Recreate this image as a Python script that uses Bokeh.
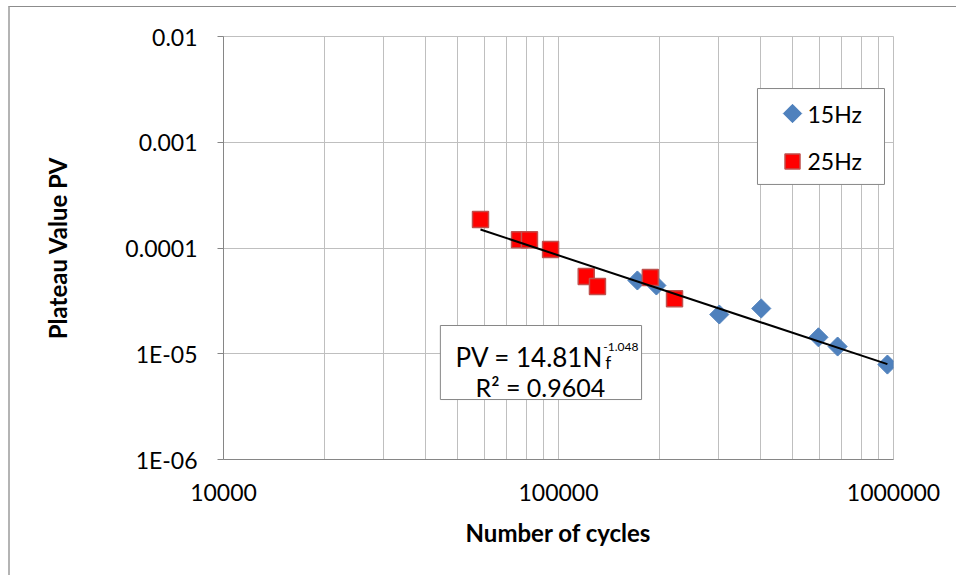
import numpy as np
from bokeh.plotting import figure
from bokeh.models import FixedTicker, BoxAnnotation, Label
from bokeh.embed import file_html
from bokeh.resources import INLINE

# ---- data ----
n_15hz = [172000, 196000, 302000, 403000, 597000, 681000, 959000]
pv_15hz = [4.93e-5, 4.42e-5, 2.35e-5, 2.68e-5, 1.43e-5, 1.17e-5, 7.9e-6]
n_25hz = [58500, 76500, 81900, 94700, 121000, 130700, 188000, 222000]
pv_25hz = [1.86e-4, 1.20e-4, 1.20e-4, 9.7e-5, 5.37e-5, 4.33e-5, 5.26e-5, 3.31e-5]
series_names = ["15Hz", "25Hz"]

trend_coef = 14.81
trend_exp = -1.048
r_squared = 0.9604

x_ticks = [1e4, 1e5, 1e6]
x_tick_labels = ["10000", "100000", "1000000"]
y_ticks = [1e-6, 1e-5, 1e-4, 1e-3, 1e-2]
y_tick_labels = ["1E-06", "1E-05", "0.0001", "0.001", "0.01"]

FONT = "Lato"
AXIS_COL = "#868686"
GRID_COL = "#bfbfbf"
BLUE = "#4f81bd"
RED = "#ff0000"
RED_EDGE = "#c0504d"

p = figure(width=948, height=569, x_axis_type="log", y_axis_type="log",
           x_range=(1e4, 1e6), y_range=(1e-6, 1e-2),
           output_backend="svg", toolbar_location=None,
           min_border_left=213, min_border_right=65, min_border_top=29, min_border_bottom=117,
           styles={"margin-left": "8px", "margin-top": "6px",
                   "border-left": "2px solid #b4b4b4", "border-top": "1px solid #8c8c8c"})
p.outline_line_color = GRID_COL

minor_x = [m * 10 ** k for k in (4, 5) for m in range(2, 10)]
p.xaxis.ticker = FixedTicker(ticks=x_ticks, minor_ticks=minor_x)
p.yaxis.ticker = FixedTicker(ticks=y_ticks, minor_ticks=[])
p.xaxis.major_label_overrides = {t: s for t, s in zip(x_ticks, x_tick_labels)}
p.yaxis.major_label_overrides = {t: s for t, s in zip(y_ticks, y_tick_labels)}

for ax in (p.xaxis[0], p.yaxis[0]):
    ax.axis_line_color = AXIS_COL
    ax.major_tick_line_color = AXIS_COL
    ax.major_tick_in = 0
    ax.minor_tick_in = 0
    ax.minor_tick_out = 0
    ax.major_label_text_font = FONT
    ax.major_label_text_font_size = "23px"
    ax.major_label_text_color = "black"
    ax.axis_label_text_font = FONT
    ax.axis_label_text_font_size = "24px"
    ax.axis_label_text_font_style = "bold"
    ax.axis_label_text_color = "black"

p.xaxis.major_tick_out = 0
p.yaxis.major_tick_out = 6
p.xaxis.major_label_standoff = 24
p.yaxis.major_label_standoff = 20
p.xaxis.axis_label = "Number of cycles"
p.yaxis.axis_label = "Plateau Value PV"
p.xaxis.axis_label_standoff = 14
p.yaxis.axis_label_standoff = 50

p.xgrid.grid_line_color = GRID_COL
p.xgrid.minor_grid_line_color = GRID_COL
p.ygrid.grid_line_color = GRID_COL
p.ygrid.minor_grid_line_color = None

r15 = p.scatter(n_15hz, pv_15hz, marker="square", angle=np.pi / 4, size=13.5,
                fill_color=BLUE, line_color=BLUE)
r25 = p.scatter(n_25hz, pv_25hz, marker="square", size=16,
                fill_color=RED, line_color=RED_EDGE, line_width=1.5)

all_n = n_15hz + n_25hz
tx = np.array([min(all_n), max(all_n)], dtype=float)
p.line(tx, trend_coef * tx ** trend_exp, line_color="black", line_width=2)

# legend (frame, symbols and labels; layout constants in data units)
LG_LEFT, LG_RIGHT, LG_TOP, LG_BOTTOM = 392600, 940000, 3.22e-3, 3.99e-4
LG_SYM_X, LG_TXT_X = 499500, 553700
LG_ROW_Y = [1.87e-3, 6.58e-4]
p.add_layout(BoxAnnotation(left=LG_LEFT, right=LG_RIGHT, top=LG_TOP, bottom=LG_BOTTOM,
                           fill_color="white", fill_alpha=1.0,
                           line_color=AXIS_COL, line_alpha=1.0, line_width=1))
lg15 = p.scatter([LG_SYM_X], [LG_ROW_Y[0]], marker="square", angle=np.pi / 4, size=13,
                 fill_color=BLUE, line_color=BLUE, level="overlay")
lg25 = p.scatter([LG_SYM_X], [LG_ROW_Y[1]], marker="square", size=15,
                 fill_color=RED, line_color=RED_EDGE, line_width=1.5, level="overlay")
for name, yy in zip(series_names, LG_ROW_Y):
    p.add_layout(Label(x=LG_TXT_X, y=yy, text=name, text_align="left", text_baseline="middle",
                       text_font=FONT, text_font_size="23px", text_color="black", level="overlay"))

# equation box (layout constants in data units)
EQ_LEFT, EQ_RIGHT, EQ_TOP, EQ_BOTTOM = 44400, 177000, 1.85e-5, 3.69e-6
p.add_layout(BoxAnnotation(left=EQ_LEFT, right=EQ_RIGHT, top=EQ_TOP, bottom=EQ_BOTTOM,
                           fill_color="white", fill_alpha=1.0,
                           line_color=AXIS_COL, line_alpha=1.0, line_width=1))
EQ_X1, EQ_Y1 = 136000, 9.23e-6
EQ_X2, EQ_Y2 = 88300, 4.80e-6
p.add_layout(Label(x=EQ_X1, y=EQ_Y1, text=f"PV = {trend_coef}N", text_align="right",
                   text_baseline="alphabetic", text_font=FONT, text_font_size="26px",
                   text_color="black"))
p.add_layout(Label(x=EQ_X1, y=EQ_Y1, text="f", x_offset=2, y_offset=-5, text_align="left",
                   text_baseline="alphabetic", text_font=FONT, text_font_size="17px",
                   text_color="black"))
p.add_layout(Label(x=EQ_X1, y=EQ_Y1, text=f"{trend_exp}", x_offset=0, y_offset=10, text_align="left",
                   text_baseline="alphabetic", text_font=FONT, text_font_size="12px",
                   text_color="black"))
p.add_layout(Label(x=EQ_X2, y=EQ_Y2, text=f"R\u00b2 = {r_squared}", text_align="center",
                   text_baseline="alphabetic", text_font=FONT, text_font_size="25px",
                   text_color="black"))

open("out.html", "w").write(file_html(p, INLINE))
